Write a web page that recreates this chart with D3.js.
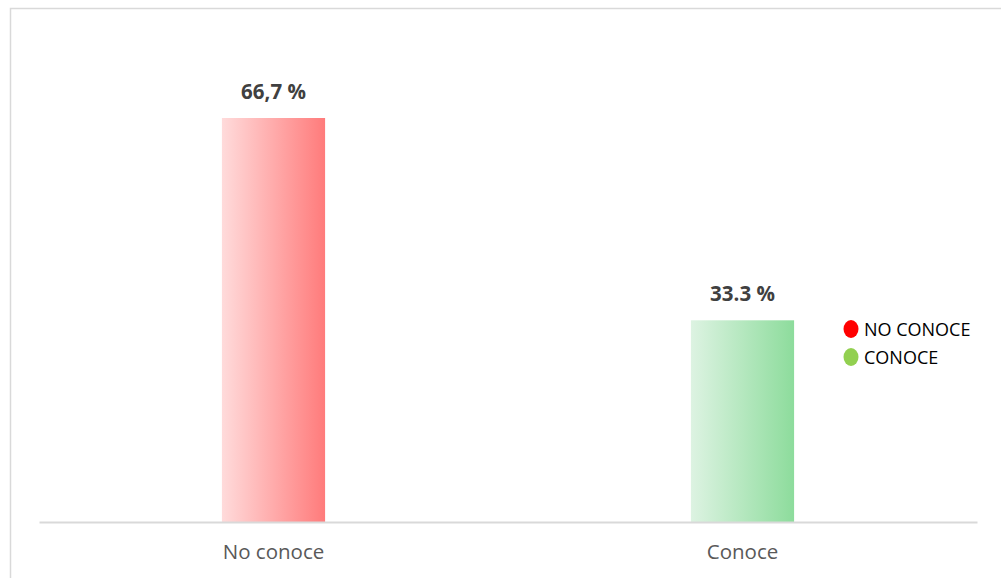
<!DOCTYPE html>
<html>
<head>
<meta charset="utf-8">
<script src="https://cdn.jsdelivr.net/npm/d3@7"></script>
<style>
  html, body { margin: 0; padding: 0; background: #fff; }
  svg { display: block; }
</style>
</head>
<body>
<svg id="chart" width="1001" height="578"></svg>
<script>
// Chart data
const categories = ["No conoce", "Conoce"];
const values = [66.7, 33.3];
const valueLabels = ["66,7 %", "33.3 %"];
const legendLabels = ["NO CONOCE", "CONOCE"];
const legendColors = ["#ff0000", "#92d050"];

const svg = d3.select("#chart");

// Outer frame (partially visible)
svg.append("rect")
  .attr("x", 10.5).attr("y", 8.5)
  .attr("width", 1100).attr("height", 700)
  .attr("fill", "none")
  .attr("stroke", "#d9d9d9")
  .attr("stroke-width", 1.5);

const x = d3.scaleBand()
  .domain(categories)
  .range([39, 977])
  .paddingInner(0.78)
  .paddingOuter(0.39);

const y = d3.scaleLinear()
  .domain([0, 66.7])
  .range([522, 118]);

// Gradients
const defs = svg.append("defs");
const grads = [
  { id: "gRed", from: "#ffdbdb", to: "#ff7b7b" },
  { id: "gGreen", from: "#ddf3e2", to: "#8ddc9c" }
];
grads.forEach(g => {
  const lg = defs.append("linearGradient")
    .attr("id", g.id).attr("x1", "0%").attr("x2", "100%").attr("y1", "0%").attr("y2", "0%");
  lg.append("stop").attr("offset", "0%").attr("stop-color", g.from);
  lg.append("stop").attr("offset", "100%").attr("stop-color", g.to);
});

// Bars
svg.selectAll("rect.bar")
  .data(values)
  .join("rect")
  .attr("class", "bar")
  .attr("x", (d, i) => x(categories[i]))
  .attr("y", d => y(d))
  .attr("width", x.bandwidth())
  .attr("height", d => y(0) - y(d))
  .attr("fill", (d, i) => `url(#${grads[i].id})`);

// Value labels
svg.selectAll("text.val")
  .data(values)
  .join("text")
  .attr("class", "val")
  .attr("x", (d, i) => x(categories[i]) + x.bandwidth() / 2)
  .attr("y", d => y(d) - 19)
  .attr("text-anchor", "middle")
  .attr("font-family", "Open Sans, sans-serif")
  .attr("font-weight", "bold")
  .attr("font-size", 20.5)
  .attr("fill", "#404040")
  .text((d, i) => valueLabels[i]);

// X axis
const xAxis = svg.append("g")
  .attr("transform", `translate(0,${y(0)})`)
  .call(d3.axisBottom(x).tickSize(0).tickPadding(22));
xAxis.select(".domain").attr("stroke", "#d9d9d9").attr("stroke-width", 2);
xAxis.selectAll("text")
  .attr("font-family", "Open Sans, sans-serif")
  .attr("font-size", 20.5)
  .attr("fill", "#595959");

// Legend
const legend = svg.append("g").attr("transform", "translate(851,329)");
legendLabels.forEach((lab, i) => {
  const g = legend.append("g").attr("transform", `translate(0,${i * 28})`);
  g.append("ellipse").attr("rx", 7.5).attr("ry", 9).attr("fill", legendColors[i]);
  g.append("text")
    .attr("x", 13).attr("y", 6.5)
    .attr("font-family", "Open Sans, sans-serif")
    .attr("font-size", 18)
    .attr("fill", "#000")
    .text(lab);
});
</script>
</body>
</html>
